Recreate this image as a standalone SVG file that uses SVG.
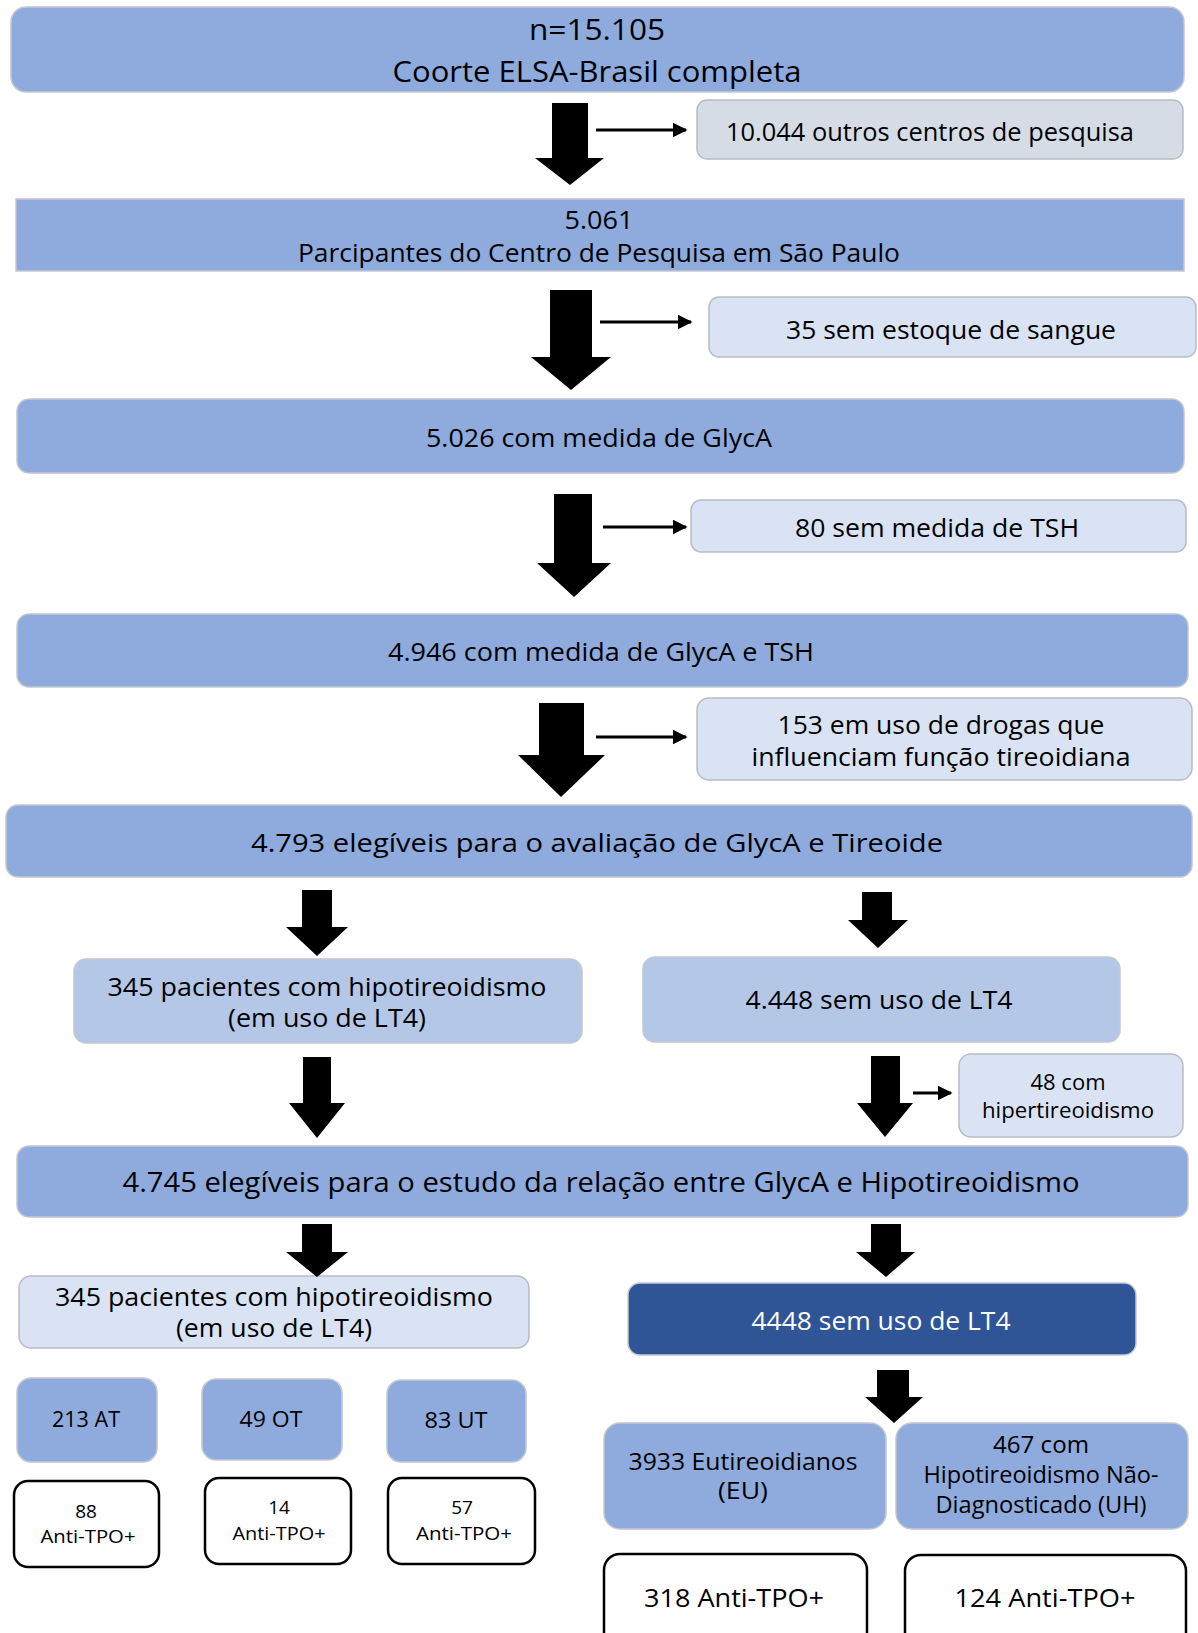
<svg xmlns="http://www.w3.org/2000/svg" width="1198" height="1633" viewBox="0 0 1198 1633">
<style>
text{font-family:"Open Sans","Noto Sans","DejaVu Sans",sans-serif;fill:#000;text-anchor:middle}
.main{fill:#8faadc;stroke:#c4c8d0;stroke-width:1.5}
.mid{fill:#b4c7e7;stroke:#c4c8d0;stroke-width:1.5}
.light{fill:#dae3f3;stroke:#b8bcc4;stroke-width:1.5}
.gray{fill:#d6dce5;stroke:#b8bcc4;stroke-width:1.5}
.dark{fill:#2f5597;stroke:#c4c8d0;stroke-width:1.5}
.out{fill:#fff;stroke:#000;stroke-width:2.5}
.blk{fill:#000}
.thin{stroke:#000;stroke-width:3;fill:none;marker-end:url(#ah)}
</style>
<defs>
<marker id="ah" viewBox="0 0 10 10" refX="9" refY="5" markerWidth="5" markerHeight="5" orient="auto" markerUnits="strokeWidth">
<path d="M0,0 L10,5 L0,10 z" fill="#000"/>
</marker>
</defs>
<rect width="1198" height="1633" fill="#fff"/>
<g id="n1"><rect class="main" x="11" y="7" width="1173" height="85" rx="15"/>
<text x="597" y="40" font-size="30" textLength="136" lengthAdjust="spacingAndGlyphs">n=15.105</text>
<text x="597" y="82" font-size="30" textLength="409" lengthAdjust="spacingAndGlyphs">Coorte ELSA-Brasil completa</text></g>
<g id="n2"><rect class="gray" x="697" y="100" width="486" height="59" rx="10"/>
<text x="930" y="141" font-size="25" textLength="408" lengthAdjust="spacingAndGlyphs">10.044 outros centros de pesquisa</text></g>
<g id="n3"><rect class="main" x="16" y="199" width="1168" height="72"/>
<text x="599" y="229" font-size="25" textLength="69" lengthAdjust="spacingAndGlyphs">5.061</text>
<text x="599" y="262" font-size="25" textLength="602" lengthAdjust="spacingAndGlyphs">Parcipantes do Centro de Pesquisa em São Paulo</text></g>
<g id="n4"><rect class="light" x="709" y="297" width="487" height="60" rx="10"/>
<text x="951" y="339" font-size="25" textLength="330" lengthAdjust="spacingAndGlyphs">35 sem estoque de sangue</text></g>
<g id="n5"><rect class="main" x="17" y="399" width="1167" height="74" rx="12"/>
<text x="599" y="447" font-size="25" textLength="346" lengthAdjust="spacingAndGlyphs">5.026 com medida de GlycA</text></g>
<g id="n6"><rect class="light" x="691" y="500" width="495" height="52" rx="10"/>
<text x="937" y="537" font-size="25" textLength="284" lengthAdjust="spacingAndGlyphs">80 sem medida de TSH</text></g>
<g id="n7"><rect class="main" x="17" y="614" width="1171" height="73" rx="12"/>
<text x="601" y="661" font-size="25" textLength="426" lengthAdjust="spacingAndGlyphs">4.946 com medida de GlycA e TSH</text></g>
<g id="n8"><rect class="light" x="697" y="698" width="495" height="82" rx="12"/>
<text x="941" y="734" font-size="25" textLength="327" lengthAdjust="spacingAndGlyphs">153 em uso de drogas que</text>
<text x="941" y="766" font-size="25" textLength="379" lengthAdjust="spacingAndGlyphs">influenciam função tireoidiana</text></g>
<g id="n9"><rect class="main" x="6" y="805" width="1186" height="72" rx="12"/>
<text x="597" y="852" font-size="26" textLength="692" lengthAdjust="spacingAndGlyphs">4.793 elegíveis para o avaliação de GlycA e Tireoide</text></g>
<g id="n10"><rect class="mid" x="74" y="959" width="508" height="84" rx="12"/>
<text x="327" y="996" font-size="25" textLength="439" lengthAdjust="spacingAndGlyphs">345 pacientes com hipotireoidismo</text>
<text x="327" y="1027" font-size="25" textLength="198" lengthAdjust="spacingAndGlyphs">(em uso de LT4)</text></g>
<g id="n11"><rect class="mid" x="643" y="957" width="477" height="85" rx="12"/>
<text x="879" y="1009" font-size="25" textLength="267" lengthAdjust="spacingAndGlyphs">4.448 sem uso de LT4</text></g>
<g id="n12"><rect class="light" x="959" y="1054" width="224" height="83" rx="12"/>
<text x="1068" y="1090" font-size="21" textLength="75" lengthAdjust="spacingAndGlyphs">48 com</text>
<text x="1068" y="1118" font-size="21" textLength="172" lengthAdjust="spacingAndGlyphs">hipertireoidismo</text></g>
<g id="n13"><rect class="main" x="17" y="1146" width="1171" height="71" rx="12"/>
<text x="601" y="1192" font-size="27" textLength="957" lengthAdjust="spacingAndGlyphs">4.745 elegíveis para o estudo da relação entre GlycA e Hipotireoidismo</text></g>
<g id="n14"><rect class="light" x="19" y="1276" width="510" height="72" rx="12"/>
<text x="274" y="1306" font-size="25" textLength="438" lengthAdjust="spacingAndGlyphs">345 pacientes com hipotireoidismo</text>
<text x="274" y="1337" font-size="25" textLength="196" lengthAdjust="spacingAndGlyphs">(em uso de LT4)</text></g>
<g id="n15"><rect class="dark" x="628" y="1283" width="508" height="72" rx="12"/>
<text x="881" y="1330" font-size="25" textLength="259" lengthAdjust="spacingAndGlyphs" style="fill:#fff">4448 sem uso de LT4</text></g>
<g id="n16"><rect class="main" x="17" y="1378" width="140" height="84" rx="14"/>
<text x="86" y="1427" font-size="21" textLength="68" lengthAdjust="spacingAndGlyphs">213 AT</text></g>
<g id="n17"><rect class="main" x="202" y="1379" width="140" height="81" rx="14"/>
<text x="271" y="1427" font-size="21" textLength="63" lengthAdjust="spacingAndGlyphs">49 OT</text></g>
<g id="n18"><rect class="main" x="387" y="1380" width="139" height="82" rx="14"/>
<text x="456" y="1428" font-size="21" textLength="63" lengthAdjust="spacingAndGlyphs">83 UT</text></g>
<g id="n19"><rect class="out" x="14" y="1481" width="145" height="86" rx="14"/>
<text x="86" y="1518" font-size="19">88</text>
<text x="88" y="1543" font-size="19" textLength="95" lengthAdjust="spacingAndGlyphs">Anti-TPO+</text></g>
<g id="n20"><rect class="out" x="205" y="1478" width="146" height="86" rx="14"/>
<text x="279" y="1514" font-size="19">14</text>
<text x="279" y="1540" font-size="19" textLength="93" lengthAdjust="spacingAndGlyphs">Anti-TPO+</text></g>
<g id="n21"><rect class="out" x="388" y="1478" width="147" height="86" rx="14"/>
<text x="462" y="1514" font-size="19">57</text>
<text x="464" y="1540" font-size="19" textLength="96" lengthAdjust="spacingAndGlyphs">Anti-TPO+</text></g>
<g id="n22"><rect class="main" x="604" y="1423" width="282" height="106" rx="16"/>
<text x="743" y="1470" font-size="23" textLength="229" lengthAdjust="spacingAndGlyphs">3933 Eutireoidianos</text>
<text x="743" y="1499" font-size="23" textLength="50" lengthAdjust="spacingAndGlyphs">(EU)</text></g>
<g id="n23"><rect class="main" x="896" y="1423" width="292" height="106" rx="16"/>
<text x="1041" y="1453" font-size="23" textLength="96" lengthAdjust="spacingAndGlyphs">467 com</text>
<text x="1041" y="1483" font-size="23" textLength="235" lengthAdjust="spacingAndGlyphs">Hipotireoidismo Não-</text>
<text x="1041" y="1513" font-size="23" textLength="211" lengthAdjust="spacingAndGlyphs">Diagnosticado (UH)</text></g>
<g id="n24"><rect class="out" x="604" y="1554" width="263" height="95" rx="16"/>
<text x="734" y="1607" font-size="26" textLength="180" lengthAdjust="spacingAndGlyphs">318 Anti-TPO+</text></g>
<g id="n25"><rect class="out" x="905" y="1555" width="281" height="95" rx="16"/>
<text x="1045" y="1607" font-size="26" textLength="181" lengthAdjust="spacingAndGlyphs">124 Anti-TPO+</text></g>
<g id="connectors">
<polygon class="blk" points="552,103 588,103 588,158 604,158 570,185 535,158 552,158"/>
<polygon class="blk" points="550,290 592,290 592,357 611,357 571,390 531,357 550,357"/>
<polygon class="blk" points="554,494 592,494 592,563 611,563 574,597 537,563 554,563"/>
<polygon class="blk" points="539,703 584,703 584,755 605,755 561,797 518,755 539,755"/>
<polygon class="blk" points="302,890 332,890 332,927 348,927 317,956 286,927 302,927"/>
<polygon class="blk" points="862,892 892,892 892,920 908,920 878,948 848,920 862,920"/>
<polygon class="blk" points="303,1057 331,1057 331,1103 345,1103 317,1138 289,1103 303,1103"/>
<polygon class="blk" points="871,1056 900,1056 900,1103 913,1103 885,1137 857,1103 871,1103"/>
<polygon class="blk" points="302,1224 332,1224 332,1252 348,1252 317,1277 286,1252 302,1252"/>
<polygon class="blk" points="871,1224 901,1224 901,1252 915,1252 886,1277 856,1252 871,1252"/>
<polygon class="blk" points="877,1370 909,1370 909,1397 923,1397 894,1423 865,1397 877,1397"/>
<line class="thin" x1="596" y1="130" x2="686" y2="130"/>
<line class="thin" x1="600" y1="322" x2="691" y2="322"/>
<line class="thin" x1="603" y1="527" x2="686" y2="527"/>
<line class="thin" x1="596" y1="737" x2="686" y2="737"/>
<line class="thin" x1="913" y1="1093" x2="951" y2="1093"/>
</g>
</svg>
